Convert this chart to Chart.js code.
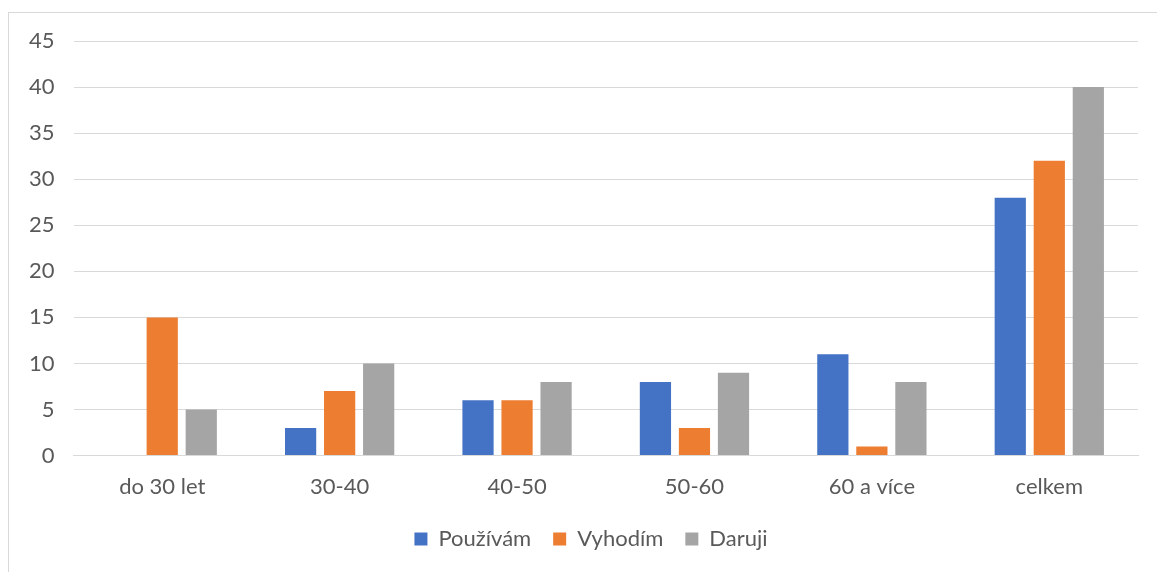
<!DOCTYPE html>
<html>
<head>
<meta charset="utf-8">
<script src="https://cdn.jsdelivr.net/npm/chart.js@4/dist/chart.umd.min.js"></script>
<style>
  html, body { margin: 0; padding: 0; background: #fff; overflow: hidden; }
  #ramecek { position: absolute; left: 8px; top: 12px; width: 1170px; height: 580px; border: 1px solid #d9d9d9; }
  #wrap { position: absolute; left: 0; top: 0; width: 1157px; height: 572px; }
</style>
</head>
<body>
<div id="ramecek"></div>
<div id="wrap"><canvas id="graf"></canvas></div>
<script>
// Kategorie (věkové skupiny)
const kategorie = ['do 30 let', '30-40', '40-50', '50-60', '60 a více', 'celkem'];

// Hodnoty jednotlivých řad
const pouzivam = [0, 3, 6, 8, 11, 28];
const vyhodim = [15, 7, 6, 3, 1, 32];
const daruji = [5, 10, 8, 9, 8, 40];

// Popisky osy Y
const osaY = [0, 5, 10, 15, 20, 25, 30, 35, 40, 45];

const pismo = 'Lato, "Open Sans", sans-serif';
const barvaTextu = '#595959';

// Posun legendy (v Excelu je umístěná trochu jinak)
const posunLegendy = {
  id: 'posunLegendy',
  afterLayout(chart) {
    const l = chart.legend;
    l.left += 17;
    l.right += 17;
    l.top -= 12;
    l.bottom -= 12;
  }
};

const ctx = document.getElementById('graf').getContext('2d');
const graf = new Chart(ctx, {
  type: 'bar',
  data: {
    labels: kategorie,
    datasets: [{
      label: 'Používám',
      data: pouzivam,
      backgroundColor: '#4472c4'
    }, {
      label: 'Vyhodím',
      data: vyhodim,
      backgroundColor: '#ed7d31'
    }, {
      label: 'Daruji',
      data: daruji,
      backgroundColor: '#a5a5a5'
    }]
  },
  options: {
    responsive: true,
    maintainAspectRatio: false,
    animation: false,
    datasets: {
      bar: { categoryPercentage: 0.66, barPercentage: 0.8 }
    },
    layout: {
      padding: { left: 10, right: 19, top: 41, bottom: 0 }
    },
    plugins: {
      tooltip: { enabled: false },
      legend: {
        position: 'bottom',
        labels: {
          boxWidth: 13,
          boxHeight: 13,
          padding: 22,
          color: barvaTextu,
          font: { family: pismo, size: 22 }
        }
      }
    },
    scales: {
      x: {
        grid: { display: false, drawTicks: false },
        border: { display: true, color: '#d9d9d9', width: 1 },
        ticks: {
          color: barvaTextu,
          padding: 18,
          font: { family: pismo, size: 22 }
        }
      },
      y: {
        min: 0,
        max: 45,
        afterBuildTicks: function(osa) {
          osa.ticks = osaY.map(v => ({ value: v }));
        },
        grid: { color: '#d9d9d9', drawTicks: false },
        border: { display: false },
        ticks: {
          color: barvaTextu,
          padding: 19,
          font: { family: pismo, size: 22 }
        }
      }
    }
  },
  plugins: [posunLegendy]
});
</script>
</body>
</html>
